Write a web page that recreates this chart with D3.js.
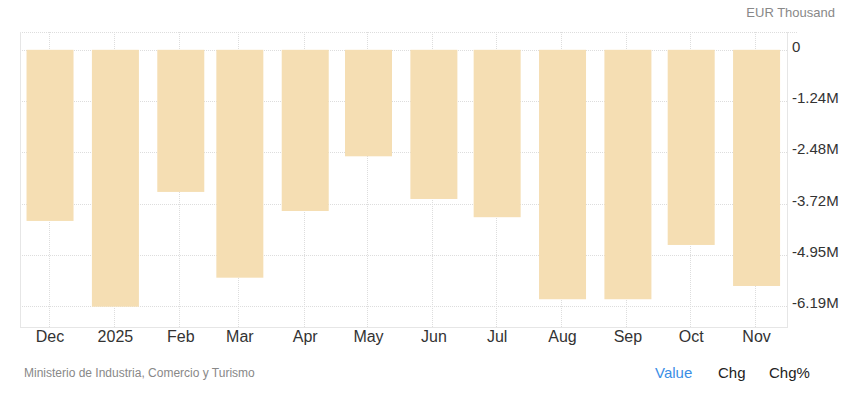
<!DOCTYPE html>
<html>
<head>
<meta charset="utf-8">
<script src="https://cdn.jsdelivr.net/npm/d3@7"></script>
<style>
  body { margin: 0; background: #fff; }
  text { font-family: "Liberation Sans", Arial, sans-serif; }
</style>
</head>
<body>
<div id="chart"></div>
<script>
// monthly values, EUR thousand
var months = ["2024-12-01", "2025-01-01", "2025-02-01", "2025-03-01", "2025-04-01", "2025-05-01",
              "2025-06-01", "2025-07-01", "2025-08-01", "2025-09-01", "2025-10-01", "2025-11-01"];
var monthLabels = ["Dec", "2025", "Feb", "Mar", "Apr", "May", "Jun", "Jul", "Aug", "Sep", "Oct", "Nov"];
var values = [-4130000, -6200000, -3430000, -5500000, -3890000, -2570000,
              -3600000, -4040000, -6020000, -6020000, -4710000, -5700000];
var yTicks = [0, -1238500, -2477000, -3715500, -4954000, -6192500];

var svgW = 845, svgH = 395;
var margin = { top: 32, right: 58, bottom: 68, left: 20 };
var w = svgW - margin.left - margin.right;
var h = svgH - margin.top - margin.bottom;

var parse = d3.timeParse("%Y-%m-%d");
var data = months.map(function(m, i) {
    return { date: parse(m), label: monthLabels[i], value: values[i] };
});

var svg = d3.select("#chart").append("svg")
    .attr("width", svgW).attr("height", svgH);

var g = svg.append("g")
    .attr("transform", `translate(${margin.left}, ${margin.top})`);

var x = d3.scaleTime()
    .domain([new Date(2024, 10, 17), new Date(2025, 10, 15, 16)])
    .range([0, w]);

var y = d3.scaleLinear()
    .domain([-6.69e6, 0.43e6])
    .range([h, 0]);

var fmt = function(v) { return v === 0 ? "0" : (v / 1e6).toFixed(2) + "M"; };

// grid
g.append("line")
    .attr("x1", 0).attr("x2", w + 10).attr("y1", 0.5).attr("y2", 0.5)
    .attr("stroke", "#ddd").attr("stroke-dasharray", "1,1");

g.selectAll(".hgrid").data(yTicks).enter().append("line")
    .attr("x1", 0).attr("x2", w)
    .attr("y1", d => Math.round(y(d)) + 0.5).attr("y2", d => Math.round(y(d)) + 0.5)
    .attr("stroke", "#ddd").attr("stroke-dasharray", "1,1");

g.selectAll(".vgrid").data(data).enter().append("line")
    .attr("x1", d => Math.round(x(d.date)) - 0.5).attr("x2", d => Math.round(x(d.date)) - 0.5)
    .attr("y1", 0).attr("y2", h)
    .attr("stroke", "#ddd").attr("stroke-dasharray", "1,1");

// bars
var barW = 47;
g.selectAll("rect").data(data).enter().append("rect")
    .attr("x", d => x(d.date) - barW / 2 + 0.5)
    .attr("y", d => y(0))
    .attr("width", barW)
    .attr("height", d => y(d.value) - y(0))
    .attr("fill", "#f5deb3");

// axes frame
g.append("line").attr("x1", 0.5).attr("x2", 0.5).attr("y1", 0).attr("y2", h)
    .attr("stroke", "#e6e6e6");
g.append("line").attr("x1", w + 0.5).attr("x2", w + 0.5).attr("y1", 0).attr("y2", h)
    .attr("stroke", "#e6e6e6");
g.append("line").attr("x1", 0).attr("x2", w + 1).attr("y1", h + 0.5).attr("y2", h + 0.5)
    .attr("stroke", "#e6e6e6");

// x axis labels
var xAxis = d3.axisBottom(x)
    .tickValues(data.map(d => d.date))
    .tickFormat((d, i) => monthLabels[i])
    .tickSize(0).tickPadding(4);
var xg = g.append("g").attr("transform", `translate(0, ${h})`).call(xAxis);
xg.select(".domain").remove();
xg.selectAll("text").attr("font-size", 16).attr("fill", "#333")
    .attr("font-family", "'Liberation Sans', Arial, sans-serif");

// y axis labels
var yAxis = d3.axisRight(y).tickValues(yTicks).tickFormat(fmt).tickSize(0).tickPadding(5);
var yg = g.append("g").attr("transform", `translate(${w}, 0)`).call(yAxis);
yg.select(".domain").remove();
yg.selectAll("text").attr("font-size", 15).attr("fill", "#333").attr("dy", "0.1em")
    .attr("font-family", "'Liberation Sans', Arial, sans-serif");

// unit + footer
svg.append("text").attr("x", 835).attr("y", 17).attr("text-anchor", "end")
    .attr("font-size", 13).attr("fill", "#888").text("EUR Thousand");

svg.append("text").attr("x", 24).attr("y", 377)
    .attr("font-size", 12).attr("fill", "#888")
    .text("Ministerio de Industria, Comercio y Turismo");

var tabs = [["Value", 655, "#3a8ee6"], ["Chg", 718, "#222"], ["Chg%", 769, "#222"]];
svg.selectAll(".tab").data(tabs).enter().append("text")
    .attr("x", d => d[1]).attr("y", 378)
    .attr("font-size", 15).attr("fill", d => d[2])
    .text(d => d[0]);
</script>
</body>
</html>
